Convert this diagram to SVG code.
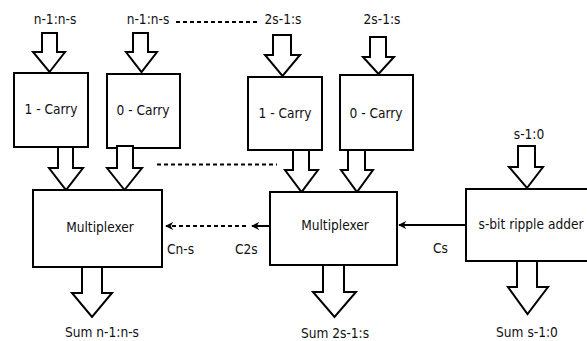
<svg xmlns="http://www.w3.org/2000/svg" width="587" height="341" viewBox="0 0 587 341">
<style>
.box{fill:#fff;stroke:#000;stroke-width:2}
.arr{fill:#fff;stroke:#000;stroke-width:2;stroke-linejoin:miter}
.t{font-family:'DejaVu Sans Condensed','DejaVu Sans',sans-serif;font-stretch:condensed;font-size:13.6px;fill:#111;text-anchor:middle}
.ts{font-family:'DejaVu Sans Condensed','DejaVu Sans',sans-serif;font-stretch:condensed;font-size:13.6px;fill:#111}
.dash{stroke:#000;stroke-width:2;stroke-dasharray:4,3;fill:none}
.ln{stroke:#000;stroke-width:2;fill:none}
</style>
<defs>
<marker id="ah" viewBox="0 0 10 10" refX="9" refY="5" markerWidth="4" markerHeight="4" orient="auto" markerUnits="strokeWidth">
<path d="M0,0 L10,5 L0,10 L3,5 z" fill="#000"/>
</marker>
</defs>
<g id="labels-top">
<text class="t" x="55" y="24">n-1:n-s</text>
<text class="t" x="148" y="24">n-1:n-s</text>
<text class="t" x="283" y="24">2s-1:s</text>
<text class="t" x="382" y="24">2s-1:s</text>
<text class="t" x="529" y="139">s-1:0</text>
</g>
<g id="carry1a">
<polygon class="arr" points="42,33 42,52 33,52 49.5,72 65,52 57,52 57,33"/>
<rect class="box" x="14" y="73" width="74" height="74"/>
<text class="t" x="51" y="114">1 - Carry</text>
</g>
<g id="carry0a">
<polygon class="arr" points="133,33 133,52 126,52 141.5,72 157,52 148,52 148,33"/>
<rect class="box" x="107" y="74" width="73" height="74"/>
<text class="t" x="143" y="115">0 - Carry</text>
</g>
<g id="carry1b">
<polygon class="arr" points="273,35 273,55 265,55 282.5,76 300,55 291,55 291,35"/>
<rect class="box" x="248" y="77" width="74" height="73"/>
<text class="t" x="285" y="118">1 - Carry</text>
</g>
<g id="carry0b">
<polygon class="arr" points="370,37 370,57 363,57 378.5,74 394,57 386,57 386,37"/>
<rect class="box" x="340" y="75" width="73" height="75"/>
<text class="t" x="376" y="118">0 - Carry</text>
</g>
<g id="mux1">
<polygon class="arr" points="58,147 58,168 49,168 66,190 83,168 73,168 73,147"/>
<polygon class="arr" points="117,146 117,168 107,168 124.5,190 142,168 133,168 133,146"/>
<rect class="box" x="33" y="190" width="129" height="77"/>
<text class="t" x="100" y="232">Multiplexer</text>
<polygon class="arr" points="82,267 82,293 72,293 92,317 112,293 102,293 102,267"/>
<text class="t" x="102" y="337">Sum n-1:n-s</text>
</g>
<g id="mux2">
<polygon class="arr" points="293,150 293,170 285,170 301.5,192 318,170 309,170 309,150"/>
<polygon class="arr" points="348,150 348,170 341,170 357,192 373,170 365,170 365,150"/>
<rect class="box" x="270" y="192" width="127" height="73"/>
<text class="t" x="335" y="230">Multiplexer</text>
<polygon class="arr" points="323,265 323,292 313,292 334.5,317 356,292 344,292 344,265"/>
<text class="t" x="335" y="338">Sum 2s-1:s</text>
</g>
<g id="adder">
<polygon class="arr" points="518,146 518,167 509,167 527,188 543,167 535,167 535,146"/>
<rect class="box" x="466" y="189" width="126" height="72"/>
<text class="t" x="531" y="229">s-bit ripple adder</text>
<polygon class="arr" points="517,261 517,287 508,287 527.5,314 548,287 537,287 537,261"/>
<text class="t" x="527" y="337">Sum s-1:0</text>
</g>
<g id="connectors">
<line class="dash" x1="176" y1="22" x2="258" y2="22"/>
<line class="dash" x1="157" y1="164.5" x2="277" y2="164.5"/>
<line class="ln" x1="466" y1="225" x2="399" y2="225" marker-end="url(#ah)"/>
<line class="ln" x1="269" y1="226" x2="252" y2="226" marker-end="url(#ah)"/>
<line class="dash" x1="246" y1="226" x2="166" y2="226" marker-end="url(#ah)"/>
<text class="ts" x="167" y="254">Cn-s</text>
<text class="ts" x="235" y="254">C2s</text>
<text class="ts" x="433" y="253">Cs</text>
</g>
</svg>
